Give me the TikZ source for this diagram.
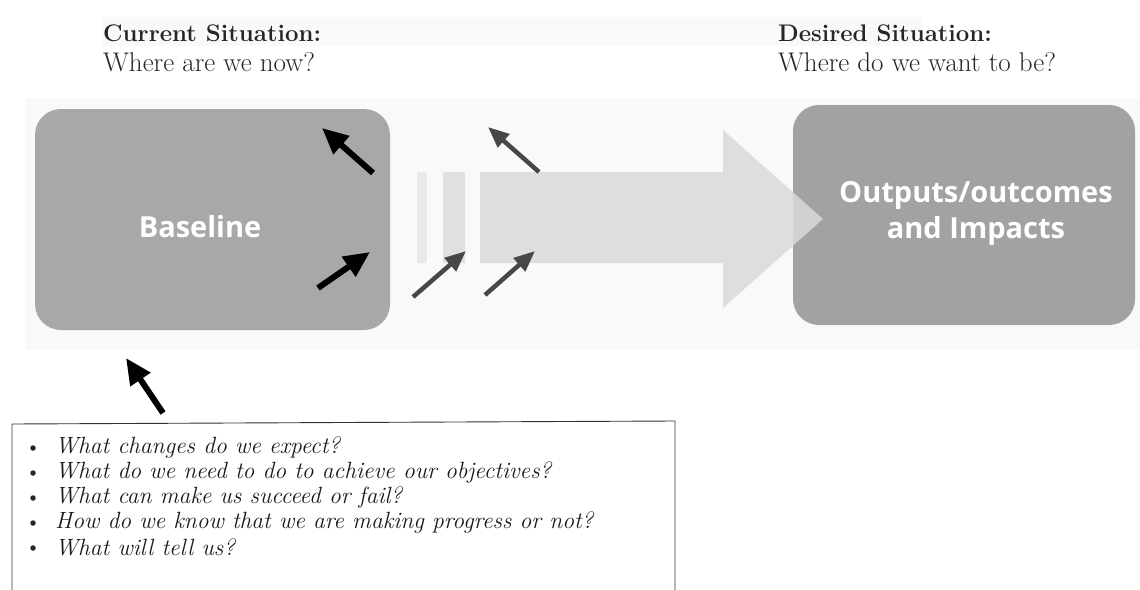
\documentclass[tikz,border=0pt]{standalone}
\usepackage{fontspec}
\newfontfamily\boxfont{Open Sans}
\usetikzlibrary{arrows.meta}
\definecolor{boxgray}{HTML}{A8A8A8}
\definecolor{outgray}{HTML}{A2A2A2}
\definecolor{bigarrow}{HTML}{DADADA}
\definecolor{panel}{HTML}{F9F9F9}
\tikzset{
  blk/.style={line width=6pt, -{Triangle[length=26pt,width=23pt]}, black},
  gry/.style={line width=4.5pt, -{Triangle[length=21pt,width=17pt]}, black!72},
  boxlabel/.style={text=white, font=\boxfont\bfseries\fontsize{29}{36}\selectfont, align=center},
  head/.style={anchor=west, inner sep=0pt, font=\bfseries\fontsize{24}{28}\selectfont, text=black!85},
  sub/.style={anchor=west, inner sep=0pt, font=\fontsize{27}{29}\selectfont, text=black!85},
  q/.style={anchor=west, inner sep=0pt, font=\itshape\fontsize{23.5}{25}\selectfont, text=black!90},
  bul/.style={circle, fill=black!85, inner sep=0pt, minimum size=5.5pt}
}
\begin{document}
\begin{tikzpicture}[x=1pt,y=-1pt]
\useasboundingbox (0,0) rectangle (1140,589);
\clip (0,0) rectangle (1140,589);
% faint panels
\fill[panel] (103,17) rectangle (923,46);
\fill[panel] (25,98) rectangle (1140,350);
% headers
\node[head] (cur) at (103,33) {Current Situation:};
\node[sub] (curq) at (103,62) {Where are we now?};
\node[head] (des) at (778,33) {Desired Situation:};
\node[sub] (desq) at (778,62) {Where do we want to be?};
% boxes
\fill[boxgray, rounded corners=26pt] (35,109) rectangle (390,330);
\node[boxlabel] (base) at (200,227) {Baseline};
\fill[outgray, rounded corners=26pt] (793,105) rectangle (1135,325);
% big arrow
\fill[bigarrow!60!white] (417,172) rectangle (427,263);
\fill[bigarrow!85!white] (443,172) rectangle (465,263);
\fill[bigarrow, opacity=0.85] (480,172) -- (723,172) -- (723,130) -- (823,219) -- (723,308) -- (723,263) -- (480,263) -- cycle;
\node[boxlabel] (out) at (976,213) {Outputs/outcomes\\and Impacts};
% small arrows
\coordinate (a1s) at (373,173); \coordinate (a1e) at (322,128);
\coordinate (a2s) at (318,288); \coordinate (a2e) at (370,252);
\coordinate (a3s) at (539,172); \coordinate (a3e) at (488,127);
\coordinate (a4s) at (413,297); \coordinate (a4e) at (466,251);
\coordinate (a5s) at (485,295); \coordinate (a5e) at (535,251);
\coordinate (a6s) at (163,413); \coordinate (a6e) at (126,358);
\draw[blk] (a1s) -- (a1e);
\draw[blk] (a2s) -- (a2e);
\draw[gry] (a3s) -- (a3e);
\draw[gry] (a4s) -- (a4e);
\draw[gry] (a5s) -- (a5e);
\draw[blk] (a6s) -- (a6e);
% question box
\draw[black!80, line width=0.9pt] (12,600) -- (12,424) -- (675,421) -- (675,600);
\foreach \i/\t in {0/{What changes do we expect?},1/{What do we need to do to achieve our objectives?},2/{What can make us succeed or fail?},3/{How do we know that we are making progress or not?},4/{What will tell us?}}{
  \node[bul] (b\i) at (33,{448+25*\i}) {};
  \node[q] (t\i) at (55,{447+25*\i}) {\t};
}
\end{tikzpicture}
\end{document}
